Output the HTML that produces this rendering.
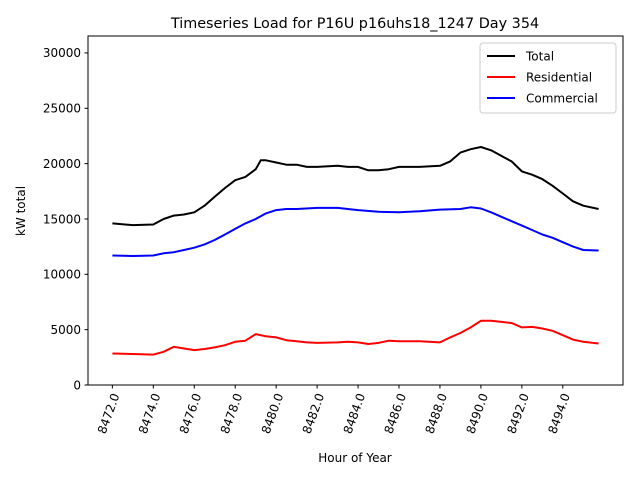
<!DOCTYPE html>
<html><head><meta charset="utf-8"><style>
body{margin:0;background:#fff;}
svg{display:block;font-family:"DejaVu Sans","Liberation Sans",sans-serif;}
</style></head><body>
<svg id="chart" width="640" height="480">
<rect x="0" y="0" width="640" height="480" fill="#fff"/>
<text x="355" y="28" font-size="14.4" text-anchor="middle">Timeseries Load for P16U p16uhs18_1247  Day 354</text>
<text x="355" y="462" font-size="12" text-anchor="middle">Hour of Year</text>
<text transform="translate(25,211) rotate(-90)" font-size="12" text-anchor="middle">kW total</text>
<g id="grid"></g>
<g id="series"></g>
<rect x="88" y="36" width="535" height="349" fill="none" stroke="#000" stroke-width="1"/>
<g id="legend">
<rect x="480" y="43" width="136" height="70" fill="#fff" stroke="#ccc" rx="3"/>
</g>
</svg>
<script>
const totalHours=[8472,8473,8474,8474.5,8475,8475.5,8476,8476.5,8477,8477.5,8478,8478.5,8479,8479.25,8479.5,8480,8480.5,8481,8481.5,8482,8483,8483.5,8484,8484.5,8485,8485.5,8486,8487,8488,8488.5,8489,8489.5,8490,8490.5,8491,8491.5,8492,8492.5,8493,8493.5,8494,8494.5,8495,8495.75];
const totalValues=[14600,14450,14500,15000,15300,15400,15600,16200,17000,17800,18500,18800,19500,20300,20300,20100,19900,19900,19700,19700,19800,19700,19700,19400,19400,19500,19700,19700,19800,20200,21000,21300,21500,21200,20700,20200,19300,19000,18600,18000,17300,16600,16200,15900];
const comHours=[8472,8473,8474,8474.5,8475,8475.5,8476,8476.5,8477,8477.5,8478,8478.5,8479,8479.5,8480,8480.5,8481,8482,8483,8484,8485,8486,8487,8488,8489,8489.5,8490,8490.5,8491,8491.5,8492,8492.5,8493,8493.5,8494,8494.5,8495,8495.75];
const comValues=[11700,11650,11700,11900,12000,12200,12400,12700,13100,13600,14100,14600,15000,15500,15800,15900,15900,16000,16000,15800,15650,15600,15700,15850,15900,16050,15950,15600,15200,14800,14400,14000,13600,13300,12900,12500,12200,12150];
const resHours=[8472,8473,8474,8474.5,8475,8475.5,8476,8476.5,8477,8477.5,8478,8478.5,8479,8479.5,8480,8480.5,8481,8481.5,8482,8483,8483.5,8484,8484.5,8485,8485.5,8486,8487,8488,8488.5,8489,8489.5,8490,8490.5,8491,8491.5,8492,8492.5,8493,8493.5,8494,8494.5,8495,8495.75];
const resValues=[2850,2800,2750,3000,3450,3300,3150,3250,3400,3600,3900,4000,4600,4400,4300,4050,3950,3850,3800,3850,3900,3850,3700,3800,4000,3950,3950,3850,4300,4700,5200,5800,5800,5700,5600,5200,5250,5100,4900,4500,4100,3900,3750];
const xTicks=[8472,8474,8476,8478,8480,8482,8484,8486,8488,8490,8492,8494];
const yTicks=[0,5000,10000,15000,20000,25000,30000];
const legendLabels=["Total","Residential","Commercial"];
const legendColors=["#000","#f00","#00f"];

const NS="http://www.w3.org/2000/svg";
const X0=88,X1=623,Y0=385,Y1=36;
const xmin=8470.81,xmax=8496.94,ymin=0,ymax=31530;
const sx=v=>X0+(v-xmin)/(xmax-xmin)*(X1-X0);
const sy=v=>Y0-(v-ymin)/(ymax-ymin)*(Y0-Y1);
function mk(t,a,p){const e=document.createElementNS(NS,t);for(const k in a)e.setAttribute(k,a[k]);p.appendChild(e);return e;}
const grid=document.getElementById('grid');
xTicks.forEach(t=>{
  const x=sx(t);
  const l=mk('line',{x1:x,x2:x,y1:Y0,y2:Y0+3.5,stroke:'#000'},grid);
  
  
  const tx=mk('text',{transform:`translate(${x+4},${Y0+9}) rotate(-70)`,'font-size':12,'text-anchor':'end','dominant-baseline':'middle'},grid);
  tx.textContent=t.toFixed(1);
  
  
});
yTicks.forEach(t=>{
  const y=sy(t);
  const l=mk('line',{x1:X0-3.5,x2:X0,y1:y,y2:y,stroke:'#000'},grid);
  
  
  const tx=mk('text',{x:X0-7,y:y+4.3,'font-size':12,'text-anchor':'end'},grid);
  tx.textContent=t;
  
  
});
const ser=document.getElementById('series');
function line(h,v,c,name){
  const d=h.map((x,i)=>(i?'L':'M')+sx(x).toFixed(1)+','+sy(v[i]).toFixed(1)).join('');
  const p=mk('path',{d:d,fill:'none',stroke:c,'stroke-width':2,'stroke-linejoin':'round'},ser);
  
  
}
line(totalHours,totalValues,'#000','total-line');
line(resHours,resValues,'#f00','residential-line');
line(comHours,comValues,'#00f','commercial-line');
const lg=document.getElementById('legend');
legendLabels.forEach((lab,i)=>{
  const y=56+i*21;
  const l=mk('line',{x1:487,x2:515,y1:y,y2:y,stroke:legendColors[i],'stroke-width':2},lg);
  
  
  const t=mk('text',{x:526,y:y+4.5,'font-size':12},lg);
  t.textContent=lab;
  
  
});
</script>
</body></html>
